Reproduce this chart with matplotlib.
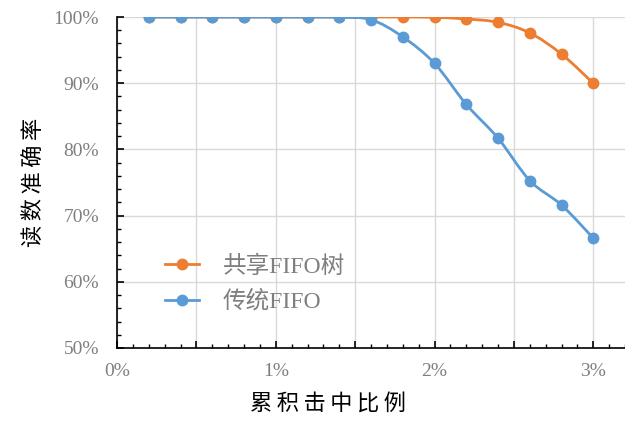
import matplotlib
matplotlib.use('Agg')
import numpy as np
from matplotlib import pyplot as plt
from matplotlib.path import Path
from matplotlib.patches import PathPatch
from matplotlib.lines import Line2D
from matplotlib.ticker import MultipleLocator, FuncFormatter

# 累积击中比例 (%) 与读数准确率 (%)
hit_ratio = [0.2, 0.4, 0.6, 0.8, 1.0, 1.2, 1.4, 1.6, 1.8, 2.0, 2.2, 2.4, 2.6, 2.8, 3.0]
acc_tree = [100, 100, 100, 100, 100, 100, 100, 100, 100, 99.95, 99.7, 99.2, 97.6, 94.4, 90.0]
acc_fifo = [100, 100, 100, 100, 100, 100, 99.95, 99.6, 97.0, 93.0, 86.8, 81.7, 75.3, 71.6, 66.6]
series_names = ['共享FIFO树', '传统FIFO']

ORANGE = '#ED7D31'
BLUE = '#5B9BD5'
GRAY = '#7F7F7F'
FONTS = ['Liberation Serif', 'Noto Sans CJK SC']

plt.rcParams['font.family'] = FONTS


def smooth_path(xs, ys):
    # 平滑折线：每段用三次贝塞尔曲线连接相邻数据点
    pts = np.column_stack([xs, ys]).astype(float)
    n = len(pts)
    verts = [pts[0]]
    codes = [Path.MOVETO]
    for i in range(n - 1):
        p0 = pts[max(i - 1, 0)]
        p1 = pts[i]
        p2 = pts[i + 1]
        p3 = pts[min(i + 2, n - 1)]
        c1 = p1 + (p2 - p0) / 6.0
        c2 = p2 - (p3 - p1) / 6.0
        verts += [c1, c2, p2]
        codes += [Path.CURVE4] * 3
    return Path(verts, codes)


def spaced(s):
    # 字间加细空格
    return '\u2009'.join(s)


fig = plt.figure(figsize=(6.25, 4.21), dpi=100)
ax = fig.add_axes([0.1872, 0.1734, 0.8128, 0.7862])

# 先画共享FIFO树，传统FIFO盖在上面
for ys, c in [(acc_tree, ORANGE), (acc_fifo, BLUE)]:
    ax.add_patch(PathPatch(smooth_path(hit_ratio, ys), fill=False, edgecolor=c,
                           lw=2.0, capstyle='round', zorder=3))
    ax.plot(hit_ratio, ys, ls='none', marker='o', ms=7.5, color=c, zorder=4)

ax.set_xlim(0, 3.2)
ax.set_ylim(50, 100)

ax.xaxis.set_major_locator(MultipleLocator(0.5))
ax.xaxis.set_minor_locator(MultipleLocator(0.1))
ax.yaxis.set_major_locator(MultipleLocator(10))
ax.yaxis.set_minor_locator(MultipleLocator(2))
ax.xaxis.set_major_formatter(FuncFormatter(
    lambda v, p: f'{v:.0f}%' if abs(v - round(v)) < 1e-6 else ''))
ax.yaxis.set_major_formatter(FuncFormatter(lambda v, p: f'{v:.0f}%'))

ax.grid(True, which='major', color='#D9D9D9', lw=1.0, zorder=0)
ax.set_axisbelow(True)

for s in ['top', 'right']:
    ax.spines[s].set_visible(False)
for s in ['left', 'bottom']:
    ax.spines[s].set_color('black')
    ax.spines[s].set_linewidth(1.2)

ax.tick_params(axis='both', which='major', direction='in', length=5, width=1.2,
               colors='black', labelcolor=GRAY, labelsize=14)
ax.tick_params(axis='both', which='minor', direction='in', length=3, width=1.0,
               colors='black')
ax.tick_params(axis='y', which='major', pad=13)
ax.tick_params(axis='x', which='major', pad=11)

ax.set_xlabel(spaced('累积击中比例'), fontsize=16, color='black')
ax.set_ylabel(spaced('读数准确率'), fontsize=16, color='black')
ax.xaxis.set_label_coords(0.415, -0.142)
ax.yaxis.set_label_coords(-0.14, 0.5)

handles = [Line2D([], [], color=ORANGE, lw=2.0, marker='o', ms=7.5),
           Line2D([], [], color=BLUE, lw=2.0, marker='o', ms=7.5)]
leg = ax.legend(handles, series_names, loc='center left', bbox_to_anchor=(0.0945, 0.193),
                frameon=False, fontsize=17, handlelength=1.45, handletextpad=1.0,
                labelspacing=0.55, borderaxespad=0, borderpad=0)
for t in leg.get_texts():
    t.set_color(GRAY)

fig.savefig('out.png', dpi=100)
